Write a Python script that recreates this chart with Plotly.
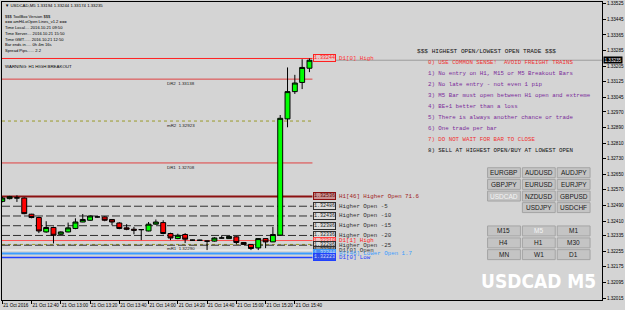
import plotly.graph_objects as go

# ---------------- data ----------------
times = ["12:20", "12:25", "12:30", "12:35", "12:40", "12:45", "12:50", "12:55",
         "13:00", "13:05", "13:10", "13:15", "13:20", "13:25", "13:30", "13:35",
         "13:40", "13:45", "13:50", "13:55", "14:00", "14:05", "14:10", "14:15",
         "14:20", "14:25", "14:30", "14:35", "14:40", "14:45", "14:50", "14:55",
         "15:00", "15:05", "15:10", "15:15", "15:20", "15:25", "15:30", "15:35",
         "15:40", "15:45", "15:50"]
opens = [1.32511, 1.32525, 1.32528, 1.32528, 1.32445, 1.32428, 1.32354, 1.32377,
         1.32342, 1.32354, 1.32372, 1.32405, 1.32414, 1.32431, 1.32431, 1.32418,
         1.32400, 1.32375, 1.32368, 1.32366, 1.32359, 1.32394, 1.32402, 1.32346,
         1.32320, 1.32341, 1.32312, 1.32312, 1.32307, 1.32307, 1.32323, 1.32320,
         1.32329, 1.32300, 1.32290, 1.32272, 1.32320, 1.32303, 1.32338, 1.32934,
         1.33074, 1.33121, 1.33194]
highs = [1.32534, 1.32539, 1.32542, 1.32531, 1.32447, 1.32432, 1.32409, 1.32381,
         1.32357, 1.32402, 1.32424, 1.32446, 1.32439, 1.32434, 1.32434, 1.32419,
         1.32404, 1.32394, 1.32380, 1.32368, 1.32405, 1.32418, 1.32414, 1.32350,
         1.32345, 1.32348, 1.32314, 1.32314, 1.32309, 1.32327, 1.32337, 1.32332,
         1.32332, 1.32302, 1.32291, 1.32322, 1.32322, 1.32380, 1.32954, 1.33198,
         1.33160, 1.33240, 1.33244]
lows = [1.32506, 1.32521, 1.32508, 1.32445, 1.32424, 1.32348, 1.32350, 1.32295,
        1.32339, 1.32352, 1.32368, 1.32404, 1.32411, 1.32428, 1.32409, 1.32388,
        1.32368, 1.32363, 1.32342, 1.32312, 1.32357, 1.32391, 1.32342, 1.32312,
        1.32317, 1.32297, 1.32309, 1.32310, 1.32261, 1.32304, 1.32321, 1.32319,
        1.32291, 1.32289, 1.32261, 1.32261, 1.32271, 1.32302, 1.32335, 1.32891,
        1.33062, 1.33087, 1.33174]
closes = [1.32528, 1.32535, 1.32529, 1.32448, 1.32428, 1.32359, 1.32377, 1.32337,
          1.32354, 1.32375, 1.32405, 1.32418, 1.32436, 1.32431, 1.32414, 1.32405,
          1.32372, 1.32368, 1.32363, 1.32366, 1.32394, 1.32405, 1.32346, 1.32323,
          1.32337, 1.32317, 1.32312, 1.32311, 1.32307, 1.32323, 1.32323, 1.32331,
          1.32300, 1.32290, 1.32269, 1.32320, 1.32303, 1.32341, 1.32937, 1.33074,
          1.33118, 1.33198, 1.33235]

xtick_times = ["12:20", "12:40", "13:00", "13:20", "13:40", "14:00", "14:20",
               "14:40", "15:00", "15:20", "15:40"]
xtick_labels = ["21 Oct 2016", "21 Oct 12:40", "21 Oct 13:00", "21 Oct 13:20",
                "21 Oct 13:40", "21 Oct 14:00", "21 Oct 14:20", "21 Oct 14:40",
                "21 Oct 15:00", "21 Oct 15:20", "21 Oct 15:40"]

ytick_vals = [1.33525, 1.33445, 1.33365, 1.33285, 1.33205, 1.33125, 1.33045,
              1.32970, 1.32890, 1.32810, 1.32730, 1.32650, 1.32570, 1.32490,
              1.32410, 1.32335, 1.32255, 1.32175, 1.32095, 1.32015]
ytick_labels = ["%.5f" % v for v in ytick_vals]

bid_price = 1.33235
title_text = "\u25bc USDCAD,M5 1.33194 1.33244 1.33174 1.33235"
info_lines = ["$$$ ToolBox Version $$$",
              "=== amHiLoOpen Lines_v1.2 ===",
              "Time Local.... 2016.10.21 09:50",
              "Time Server.... 2016.10.21 15:50",
              "Time GMT...... 2016.10.21 12:50",
              "Bar ends in..... 0h 4m 16s",
              "Spread Pips...... 2.2"]
warning_text = "WARNING: H1 HIGH BREAKOUT"

mid_names = ["DR2", "mR2", "DR1", "mR1"]
mid_prices = [1.33138, 1.32923, 1.32708, 1.32290]
mid_colors = ["#e04040", "#9a9a2a", "#e04040", "#9a9a2a"]
mid_dash = ["solid", "dot", "solid", "dot"]

lvl_names = ["D1[0] High", "H1[46] Higher Open 71.6", "Higher Open -5",
             "Higher Open -10", "Higher Open -15", "Higher Open -20",
             "D1[1] High", "Higher Open -25", "D1[0] Open",
             "H1[46] Lower Open 1.7", "D1[0] Low"]
lvl_prices = [1.33244, 1.32536, 1.32486, 1.32436, 1.32386, 1.32336,
              1.32310, 1.32286, 1.32261, 1.32244, 1.32223]
lvl_colors = ["#ff2020", "#8b1010", "#303030", "#303030", "#303030", "#303030",
              "#ff5050", "#303030", "#f4f4f4", "#3a9cff", "#2040ff"]
lvl_text_colors = ["#ff3030", "#a02020", "#303030", "#303030", "#303030", "#303030",
                   "#ff2020", "#303030", "#303030", "#3a9cff", "#2040ff"]
lvl_width = [1, 2, 1, 1, 1, 1, 1, 1, 1, 2, 1.5]
lvl_dash = ["solid", "solid", "8px,3px", "8px,3px", "8px,3px", "8px,3px",
            "solid", "8px,3px", "solid", "solid", "solid"]
lvl_box_bg = ["#e6c8c8", "#c89090", "#dcdcdc", "#dcdcdc", "#dcdcdc", "#dcdcdc",
              "#f0c0c0", "#dcdcdc", "#9a9a9a", "#4a8cf0", "#3050e8"]
lvl_box_fg = ["#ff2020", "#5a0000", "#202020", "#202020", "#202020", "#202020",
              "#ff2020", "#202020", "#202020", "#c8e0ff", "#d0d8ff"]
lvl_box_border = ["#ff2020", "#8b1010", "#303030", "#303030", "#303030", "#303030",
                  "#ff4040", "#303030", "#303030", "#3a9cff", "#2040ff"]

rules_title = "$$$ HIGHEST OPEN/LOWEST OPEN TRADE $$$"
rules = ["0) USE COMMON SENSE!  AVOID FREIGHT TRAINS",
         "1) No entry on H1, M15 or M5 Breakout Bars",
         "2) No late entry - not even 1 pip",
         "3) M5 Bar must open between H1 open and extreme",
         "4) BE+1 better than a loss",
         "5) There is always another chance or trade",
         "6) One trade per bar",
         "7) DO NOT WAIT FOR BAR TO CLOSE",
         "8) SELL AT HIGHEST OPEN/BUY AT LOWEST OPEN"]
rule_colors = ["#f03030", "#7a2a9a", "#7a2a9a", "#7a2a9a", "#7a2a9a",
               "#7a2a9a", "#7a2a9a", "#f03030", "#111111"]

pair_buttons = [["EURGBP", "AUDUSD", "AUDJPY"],
                ["GBPJPY", "EURUSD", "EURJPY"],
                ["USDCAD", "NZDUSD", "GBPUSD"],
                ["", "USDJPY", "USDCHF"]]
tf_buttons = [["M15", "M5", "M1"],
              ["H4", "H1", "M30"],
              ["MN", "W1", "D1"]]
active_buttons = ["USDCAD", "M5"]
watermark = "USDCAD M5"

# ---------------- layout geometry ----------------
W, H = 625, 310
ML, MR, MT, MB = 2, 20, 1, 10
PW, PH = W - ML - MR, H - MT - MB


def px(x):
    return (x - ML) / PW


def py(y):
    return (H - MB - y) / PH


BAR0, BARW = 2.3, 7.35
x_range = [(ML - BAR0) / BARW, (W - MR - BAR0) / BARW]
y_range = [1.320049, 1.335337]
line_end = (314 - BAR0) / BARW

xidx = list(range(len(times)))
xtick_idx = [times.index(t) for t in xtick_times]

BG = "#d4d4d4"
SANS = "Liberation Sans, Arial, sans-serif"
MONO = "Liberation Mono, Courier New, monospace"

fig = go.Figure()
fig.add_trace(go.Candlestick(
    x=xidx, open=opens, high=highs, low=lows, close=closes,
    increasing=dict(line=dict(color="#000000", width=1), fillcolor="#00ff00"),
    decreasing=dict(line=dict(color="#000000", width=1), fillcolor="#ff0000"),
    whiskerwidth=0, hoverinfo="skip"))

shapes = []
annotations = []

# mid-range lines (DR/mR)
for n, p, c, d in zip(mid_names, mid_prices, mid_colors, mid_dash):
    shapes.append(dict(type="line", xref="x", yref="y", x0=x_range[0], x1=line_end,
                       y0=p, y1=p, line=dict(color=c, width=1, dash=d), layer="below"))
    annotations.append(dict(xref="paper", yref="y", x=px(165.5), y=p, xanchor="left",
                            yanchor="top", text="%s  %.5f" % (n, p), showarrow=False,
                            font=dict(family=SANS, size=4.4, color="#202020")))

# level lines with boxes and labels
for n, p, c, w, d, tc, bb, bf, bc in zip(lvl_names, lvl_prices, lvl_colors, lvl_width,
                                         lvl_dash, lvl_text_colors, lvl_box_bg,
                                         lvl_box_fg, lvl_box_border):
    shapes.append(dict(type="line", xref="x", yref="y", x0=x_range[0], x1=line_end,
                       y0=p, y1=p, line=dict(color=c, width=w, dash=d), layer="below"))
    annotations.append(dict(xref="paper", yref="y", x=px(315), y=p, xanchor="left",
                            yanchor="middle", text="%.5f" % p, showarrow=False,
                            bgcolor=bb, bordercolor=bc, borderwidth=1, borderpad=0,
                            font=dict(family=MONO, size=5, color=bf)))
    annotations.append(dict(xref="paper", yref="y", x=px(339), y=p, xanchor="left",
                            yanchor="middle", text=n, showarrow=False,
                            font=dict(family=MONO, size=5.8, color=tc)))

# bid line
shapes.append(dict(type="line", xref="paper", yref="y", x0=px(333), x1=1,
                   y0=bid_price, y1=bid_price, line=dict(color="#9c9c9c", width=1)))
annotations.append(dict(xref="paper", yref="y", x=1.0, y=bid_price, xanchor="left",
                        yanchor="middle", text="%.5f" % bid_price, showarrow=False,
                        bgcolor="#000000", borderpad=0.5, xshift=1,
                        font=dict(family=SANS, size=4.6, color="#ffffff")))

# title & info block
annotations.append(dict(xref="paper", yref="paper", x=px(3), y=py(5), xanchor="left",
                        yanchor="middle", text=title_text, showarrow=False,
                        font=dict(family=SANS, size=4.3, color="#000000")))
info_y = [15.7, 20.9, 26.7, 32.6, 38.3, 43.8, 49.2]
for t, yy in zip(info_lines, info_y):
    annotations.append(dict(xref="paper", yref="paper", x=px(3), y=py(yy),
                            xanchor="left", yanchor="middle", text=t, showarrow=False,
                            font=dict(family=SANS, size=4.1, color="#000000")))
annotations.append(dict(xref="paper", yref="paper", x=px(3), y=py(65.5), xanchor="left",
                        yanchor="middle", text=warning_text, showarrow=False,
                        font=dict(family=SANS, size=4.4, color="#000000")))

# rules panel
annotations.append(dict(xref="paper", yref="paper", x=px(417), y=py(51), xanchor="left",
                        yanchor="middle", text=rules_title, showarrow=False,
                        font=dict(family=MONO, size=6.1, color="#111111")))
for i, (t, c) in enumerate(zip(rules, rule_colors)):
    annotations.append(dict(xref="paper", yref="paper", x=px(428), y=py(62.2 + 10.95 * i),
                            xanchor="left", yanchor="middle", text=t, showarrow=False,
                            font=dict(family=MONO, size=5.75, color=c)))

# buttons
col_x = [490, 525, 560]
bw, bh = 33, 10


def add_button(label, x0, y0):
    if label == "":
        return
    shapes.append(dict(type="rect", xref="paper", yref="paper",
                       x0=px(x0), x1=px(x0 + bw), y0=py(y0 + bh), y1=py(y0),
                       fillcolor="#c4c4c4", line=dict(color="#a4a4a4", width=1)))
    col = "#f4f4f4" if label in active_buttons else "#1a1a1a"
    annotations.append(dict(xref="paper", yref="paper", x=px(x0 + bw / 2),
                            y=py(y0 + bh / 2), xanchor="center", yanchor="middle",
                            text=label, showarrow=False,
                            font=dict(family=SANS, size=6.5, color=col)))


pair_rows_y = [167.3, 179.0, 190.7, 202.3]
for r, row in enumerate(pair_buttons):
    for c, lab in enumerate(row):
        add_button(lab, col_x[c], pair_rows_y[r])
tf_rows_y = [225.7, 237.7, 249.5]
for r, row in enumerate(tf_buttons):
    for c, lab in enumerate(row):
        add_button(lab, col_x[c], tf_rows_y[r])

# watermark
annotations.append(dict(xref="paper", yref="paper", x=px(541), y=py(280.5),
                        xanchor="center", yanchor="middle", text="<b>%s</b>" % watermark,
                        showarrow=False,
                        font=dict(family="DejaVu Sans Condensed, Liberation Sans Narrow, sans-serif",
                                  size=19, color="#ffffff")))

fig.update_layout(
    width=W, height=H, margin=dict(l=ML, r=MR, t=MT, b=MB),
    paper_bgcolor=BG, plot_bgcolor=BG, showlegend=False,
    boxgap=0.18, boxgroupgap=0.18,
    shapes=shapes, annotations=annotations,
    xaxis=dict(range=x_range, showgrid=False, zeroline=False, showline=True,
               mirror=True, linecolor="#000000", linewidth=1, ticks="outside",
               ticklen=3, tickcolor="#000000", tickvals=xtick_idx,
               ticktext=xtick_labels, ticklabelposition="outside right", tickangle=0,
               tickfont=dict(family=SANS, size=4.6, color="#000000"),
               rangeslider=dict(visible=False), fixedrange=True),
    yaxis=dict(range=y_range, side="right", showgrid=False, zeroline=False,
               showline=True, mirror=True, linecolor="#000000", linewidth=1,
               ticks="outside", ticklen=3, tickcolor="#000000", tickvals=ytick_vals,
               ticktext=ytick_labels,
               tickfont=dict(family=SANS, size=4.6, color="#000000"), fixedrange=True),
)

fig.write_html("out.html", config={"displayModeBar": False})
